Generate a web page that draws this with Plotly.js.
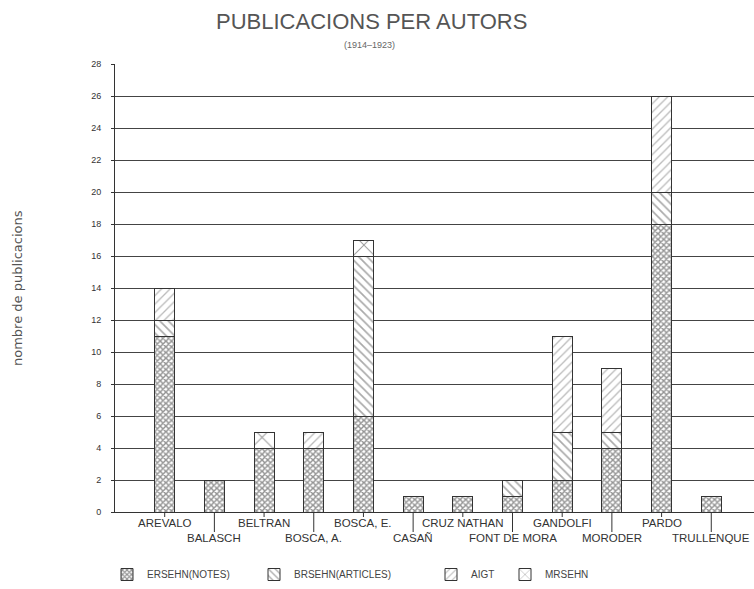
<!DOCTYPE html>
<html>
<head>
<meta charset="utf-8">
<script src="https://cdn.plot.ly/plotly-3.0.1.min.js"></script>
<style>html,body{margin:0;padding:0;background:#fff;}#chart{width:754px;height:589px;}</style>
</head>
<body>
<div id="chart"></div>
<script>
const categories = ['AREVALO','BALASCH','BELTRAN','BOSCA, A.','BOSCA, E.','CASAÑ','CRUZ NATHAN','FONT DE MORA','GANDOLFI','MORODER','PARDO','TRULLENQUE'];
const ersehnNotes = [11, 2, 4, 4, 6, 1, 1, 1, 2, 4, 18, 1];
const brsehnArticles = [1, 0, 0, 0, 10, 0, 0, 1, 3, 1, 2, 0];
const aigt = [2, 0, 0, 1, 0, 0, 0, 0, 6, 4, 6, 0];
const mrsehn = [0, 0, 1, 0, 1, 0, 0, 0, 0, 0, 0, 0];
const seriesNames = ['ERSEHN(NOTES)', 'BRSEHN(ARTICLES)', 'AIGT', 'MRSEHN'];
const yTicks = [0,2,4,6,8,10,12,14,16,18,20,22,24,26,28];

const ink = '#333333';
const L = 115, W = 754 - 115, T = 64, H = 512 - 64;
const px2x = p => (p - L) / W;
const py2y = p => (T + H - p) / H;
const fam = 'Liberation Sans, Arial, sans-serif';

const patterns = [
  {shape: 'x', size: 4, solidity: 0.6, fgcolor: '#2a2a2a', bgcolor: '#fff', fillmode: 'overlay'},
  {shape: '\\', size: 6, solidity: 0.28, fgcolor: '#555', bgcolor: '#fff', fillmode: 'overlay'},
  {shape: '/', size: 6, solidity: 0.22, fgcolor: '#777', bgcolor: '#fff', fillmode: 'overlay'},
  {shape: 'x', size: 16, solidity: 0.12, fgcolor: '#333', bgcolor: '#fff', fillmode: 'overlay'}
];
const allSeries = [ersehnNotes, brsehnArticles, aigt, mrsehn];
const legendIds = ['legend', 'legend2', 'legend3', 'legend4'];
const legendPx = [107, 254, 431, 505];

const traces = allSeries.map((vals, k) => ({
  type: 'bar',
  x: categories,
  y: vals.map(v => v === 0 ? null : v),
  name: seriesNames[k],
  width: 0.4,
  legend: legendIds[k],
  marker: {color: '#fff', pattern: patterns[k], line: {color: ink, width: 1}},
  hoverinfo: 'x+y+name'
}));

const annotations = [];
annotations.push({text: 'PUBLICACIONS PER AUTORS', xref: 'paper', yref: 'paper', x: px2x(371), y: py2y(21), showarrow: false, xanchor: 'center', yanchor: 'middle', font: {family: fam, size: 22, color: '#555'}});
annotations.push({text: '(1914–1923)', xref: 'paper', yref: 'paper', x: px2x(369), y: py2y(45), showarrow: false, xanchor: 'center', yanchor: 'middle', font: {family: fam, size: 9, color: '#666'}});
annotations.push({text: 'nombre de publicacions', xref: 'paper', yref: 'paper', x: px2x(17), y: 0.5, textangle: -90, showarrow: false, xanchor: 'center', yanchor: 'middle', font: {family: 'DejaVu Sans, sans-serif', size: 13, color: '#555'}});

const shapes = [];
categories.forEach((c, i) => {
  const lower = i % 2 === 1;
  annotations.push({text: c, xref: 'x', yref: 'paper', x: c, y: 0, yshift: lower ? -26 : -11, showarrow: false, xanchor: 'center', yanchor: 'middle', font: {family: fam, size: 11.5, color: '#333'}});
  shapes.push({type: 'line', xref: 'x', yref: 'paper', x0: c, x1: c, y0: 0, y1: lower ? -20 / H : -5 / H, line: {color: ink, width: 1}});
});

const legendBase = {orientation: 'h', yanchor: 'middle', xanchor: 'left', y: py2y(575), bgcolor: 'rgba(0,0,0,0)', font: {family: fam, size: 10, color: '#444'}};

const layout = {
  width: 754, height: 589,
  margin: {l: L, r: 0, t: T, b: 589 - 512, pad: 0},
  paper_bgcolor: '#fff', plot_bgcolor: '#fff',
  barmode: 'stack',
  showlegend: true,
  xaxis: {type: 'category', range: [-1, 11.86], showticklabels: false, ticks: '', showgrid: false, zeroline: false, showline: true, linecolor: ink, linewidth: 1, fixedrange: true},
  yaxis: {range: [0, 28], tickvals: yTicks, ticktext: yTicks.map(String), showgrid: true, gridcolor: '#444', gridwidth: 1, zeroline: false, showline: true, linecolor: ink, linewidth: 1, ticks: 'outside', ticklen: 3, tickcolor: ink, ticklabelstandoff: 8, tickfont: {family: fam, size: 9, color: '#333'}, fixedrange: true},
  annotations: annotations,
  shapes: shapes
};
legendIds.forEach((id, k) => {
  layout[id] = Object.assign({}, legendBase, {x: px2x(legendPx[k])});
});

Plotly.newPlot('chart', traces, layout, {displayModeBar: false, staticPlot: true});
</script>
</body>
</html>
